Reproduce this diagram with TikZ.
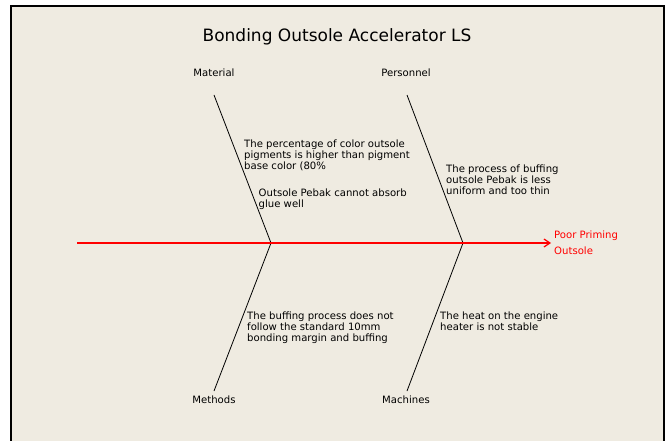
\documentclass[tikz,border=0pt]{standalone}
\usepackage{fontspec}
\setmainfont{DejaVu Sans}
\usetikzlibrary{arrows.meta}
\definecolor{panelbg}{HTML}{EFEBE1}

\begin{document}
\begin{tikzpicture}[
    x=1pt, y=-1pt,
    title/.style={inner sep=0pt, font=\fontsize{17}{20}\selectfont},
    category/.style={inner sep=0pt, font=\fontsize{10.1}{11}\selectfont},
    cause/.style={anchor=north west, align=left, inner sep=0pt, font=\fontsize{10.1}{11}\selectfont},
    effect/.style={anchor=north west, align=left, inner sep=0pt, text=red, font=\fontsize{10.1}{16}\selectfont},
    bone/.style={draw, line width=0.8pt},
    spine/.style={draw=red, line width=1.2pt, -{Straight Barb[length=6pt, width=8pt]}}
]

% Panel
\useasboundingbox (0,0) rectangle (667,441);
\fill[white] (0,0) rectangle (667,441);
\fill[panelbg] (11,6) rectangle (664,441);
\draw[line width=1.5pt] (11,441) -- (11,6) -- (664,6) -- (664,441);

% Title
\node[title] (title) at (337,37) {Bonding Outsole Accelerator LS};

% Categories
\node[category] (material) at (214,72.5) {Material};
\node[category] (personnel) at (406,72.5) {Personnel};
\node[category] (methods) at (214,400) {Methods};
\node[category] (machines) at (406,400) {Machines};

% Spine and joints
\coordinate (tail) at (77,243);
\coordinate (head) at (551,243);
\coordinate (jmat) at (271,243);
\coordinate (jper) at (463,243);
\coordinate (tmat) at (214,95);
\coordinate (tper) at (407,95);
\coordinate (tmet) at (214,391);
\coordinate (tmac) at (407,391);

% Effect
\node[effect] (effect) at (554,230.5) {Poor Priming\\Outsole};

% Causes
\node[cause] (pigment) at (244,139.5) {The percentage of color outsole\\pigments is higher than pigment\\base color (80\%};
\node[cause] (absorb) at (258.5,188.5) {Outsole Pebak cannot absorb\\glue well};
\node[cause] (buffing) at (446,164.5) {The process of buffing\\outsole Pebak is less\\uniform and too thin};
\node[cause] (margin) at (247,311.5) {The buffing process does not\\follow the standard 10mm\\bonding margin and buffing};
\node[cause] (heat) at (440,311.5) {The heat on the engine\\heater is not stable};

% Bones
\draw[bone] (tmat) -- (jmat);
\draw[bone] (tper) -- (jper);
\draw[bone] (jmat) -- (tmet);
\draw[bone] (jper) -- (tmac);
\draw[spine] (tail) -- (head);

\end{tikzpicture}
\end{document}
